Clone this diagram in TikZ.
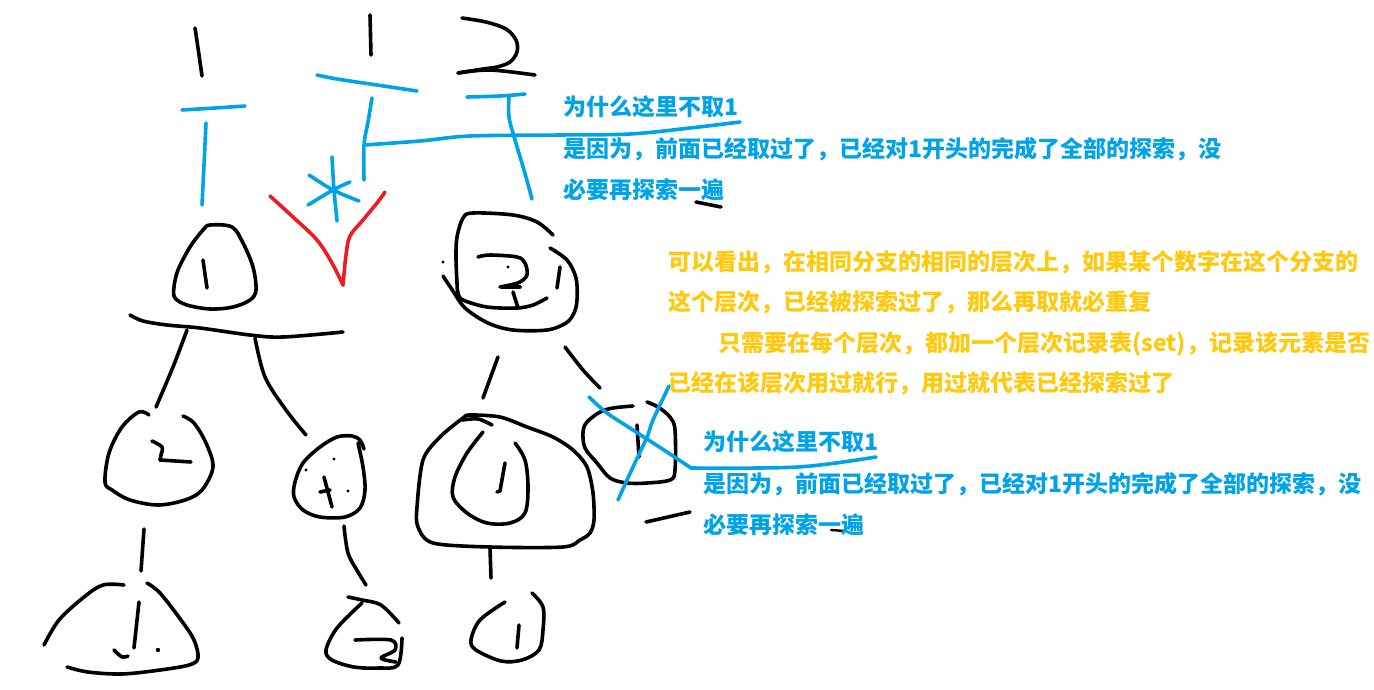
\documentclass[tikz,border=0pt]{standalone}
\usepackage{fontspec}
\newfontfamily\cjk{Noto Sans CJK SC}
\definecolor{sky}{HTML}{00A2E8}
\definecolor{rose}{HTML}{ED1C24}
\definecolor{gold}{HTML}{FFC90E}
\tikzset{
  ink/.style={line width=3.6pt, line cap=round, line join=round},
  pen/.style={ink, draw=black},
  bluepen/.style={ink, draw=sky},
  redpen/.style={ink, draw=rose},
  note/.style={anchor=base west, inner sep=0pt, font=\cjk\bfseries\fontsize{23}{28}\selectfont},
  bluenote/.style={note, text=sky},
  goldnote/.style={note, text=gold},
}
\newcommand\stroke[2][pen]{\draw[#1] plot[smooth, tension=0.55] coordinates {#2};}
\begin{document}
\begin{tikzpicture}[x=1pt, y=-1pt]
\useasboundingbox[fill=white] (0,0) rectangle (1374,689);

% ---------- top row: the three choices 1 | 1 | 2 ----------
\stroke{(195,28) (198,48) (202,76)}
\stroke[bluepen]{(182,110) (215,108) (245,106)}
\stroke[bluepen]{(206,123) (204,165) (202,205)}

\stroke{(370,15) (371,55)}
\stroke[bluepen]{(317,75) (337,79) (377,85) (417,91)}
\stroke[bluepen]{(372,98) (368,122) (364,145) (364,180)}
\stroke[bluepen]{(364,145) (420,141) (470,136) (560,135) (630,134) (690,128) (740,122)}
% asterisk
\stroke[bluepen]{(332,157) (334,190) (337,221)}
\stroke[bluepen]{(309,175) (333,190) (359,201)}
\stroke[bluepen]{(308,205) (333,190) (350,182)}

\stroke{(462,18) (486,22) (506,29) (516,40) (517,52) (510,62) (497,67) (483,69) (458,73)}
\stroke{(458,73) (490,70) (535,75)}
\stroke[bluepen]{(467,97) (500,96) (525,94)}
\stroke[bluepen]{(509,97) (509,117) (515,140) (524,170) (532,199)}

% red pruning mark
\stroke[redpen]{(270,196) (293,217) (317,240) (332,263) (343,285)}
\stroke[redpen]{(343,285) (346,255) (350,236) (363,220) (377,203) (385,192)}

% ---------- node 1 (left subtree) ----------
\draw[pen] plot[smooth cycle, tension=0.55] coordinates {(210,225) (232,227) (243,243) (253,267) (256,290) (250,300) (233,307) (210,309) (187,305) (175,298) (174,287) (178,270) (190,247) (203,230)};
\stroke{(203,260) (207,288)}
\stroke{(130,315) (143,321) (167,325) (200,328) (250,335) (283,337) (343,332)}
\stroke{(187,330) (173,367) (156,407)}
\stroke{(255,338) (265,377) (286,410) (306,435)}

% child 2
\stroke{(183,416) (194,423) (206,443) (213,467) (202,490) (185,500) (158,505) (130,500) (112,490) (105,482) (109,453) (122,427) (139,412) (149,415)}
\stroke{(152,441) (162,447) (161,455) (160,460)}
\stroke{(160,460) (191,462)}
\stroke{(144,529) (141,571)}
% grandchild 1
\stroke{(124,585) (103,585) (84,597) (59,620) (44,645)}
\stroke{(147,583) (160,593) (181,620) (194,640) (198,658) (189,665) (160,670) (122,674) (88,672) (67,667)}
\stroke{(139,602) (134,648)}
\stroke{(114,650) (122,657) (128,656)}
\fill (158,650) circle (2.2);

% child 1 (crossed)
\stroke{(358,443) (363,467) (365,490) (360,508) (345,517) (320,517) (303,510) (294,497) (295,482) (303,463) (320,447) (337,437) (352,436) (360,440) (364,449)}
\stroke{(324,477) (332,507)}
\stroke{(320,492) (330,490)}
\fill (306,470) circle (1.6) (334,459) circle (1.6) (348,491) circle (1.6);
\stroke{(344,526) (348,553) (358,572) (366,585)}
% grandchild 2
\stroke{(348,597) (362,600) (381,605) (399,623)}
\stroke{(362,603) (337,628) (326,650) (332,660) (354,667) (379,668) (398,665) (402,638)}
\stroke{(355,640) (391,640) (395,650) (381,658) (396,662)}

% ---------- node 2 (right subtree) ----------
\stroke{(553,235) (537,222) (513,215) (473,213) (463,218) (457,237) (456,257) (457,283) (458,293) (463,300) (487,307) (517,308) (533,305) (547,298)}
\stroke{(443,276) (453,291) (465,308) (488,323) (513,330) (547,330) (566,323) (574,313) (577,300) (576,278) (567,260) (550,248)}
\stroke{(560,267) (557,288)}
\fill (443,262) circle (1.6);
\stroke{(478,257) (490,255) (517,257) (525,263) (527,275) (520,282) (510,285) (500,287)}
\stroke{(502,287) (520,287)}
\fill (508,267) circle (1.6);
\stroke{(513,292) (518,308)}
\stroke{(498,357) (483,398)}
\stroke{(565,347) (583,370) (600,388)}

% child 1 (big, doubled outline)
\draw[pen] plot[smooth cycle, tension=0.5] coordinates {(470,415) (500,417) (527,427) (553,437) (573,450) (587,467) (593,493) (594,520) (590,533) (580,540) (563,547) (490,547) (433,543) (418,527) (417,507) (423,460) (440,437) (463,418)};
\stroke{(462,420) (478,419) (492,425)}
\stroke{(483,432) (467,453) (455,477) (453,497) (467,513) (487,523) (510,523) (525,513) (528,487) (525,460) (515,443)}
\stroke{(505,463) (500,491)}
\stroke{(500,491) (497,492)}
\stroke{(490,548) (491,578)}
\stroke{(505,602) (480,620) (471,640) (476,650) (501,661) (522,660) (539,650) (543,630) (543,607) (532,593)}
\stroke{(519,625) (517,648)}

% child 1 repeated (crossed out)
\stroke{(633,406) (613,408) (600,412) (587,422) (583,432) (585,448) (597,463) (610,478) (627,483) (647,483) (670,480) (675,470) (675,430) (670,417) (658,407) (647,402)}
\stroke{(637,425) (639,457)}
\stroke[bluepen]{(589,397) (607,413) (633,430) (667,452) (691,468)}
\stroke[bluepen]{(691,468) (798,467) (876,457)}
\stroke[bluepen]{(669,386) (653,420) (647,437) (633,467) (618,500)}

% loose marks
\stroke{(696,202) (721,207)}
\stroke{(646,522) (690,512)}
\draw[pen, line width=2.4pt] (831,530) -- (845,531);

% ---------- notes ----------
\node[bluenote] (qa) at (563,115) {为什么这里不取1};
\node[bluenote] (qb) at (563,157) {是因为，前面已经取过了，已经对1开头的完成了全部的探索，没};
\node[bluenote] (qc) at (563,198) {必要再探索一遍};

\node[goldnote] (ga) at (668,270) {可以看出，在相同分支的相同的层次上，如果某个数字在这个分支的};
\node[goldnote] (gb) at (668,310) {这个层次，已经被探索过了，那么再取就必重复};
\node[goldnote] (gc) at (718,351) {只需要在每个层次，都加一个层次记录表(set)，记录该元素是否};
\node[goldnote] (gd) at (668,391) {已经在该层次用过就行，用过就代表已经探索过了};

\node[bluenote] (ra) at (703,450) {为什么这里不取1};
\node[bluenote] (rb) at (703,492) {是因为，前面已经取过了，已经对1开头的完成了全部的探索，没};
\node[bluenote] (rc) at (703,533) {必要再探索一遍};
\end{tikzpicture}
\end{document}
